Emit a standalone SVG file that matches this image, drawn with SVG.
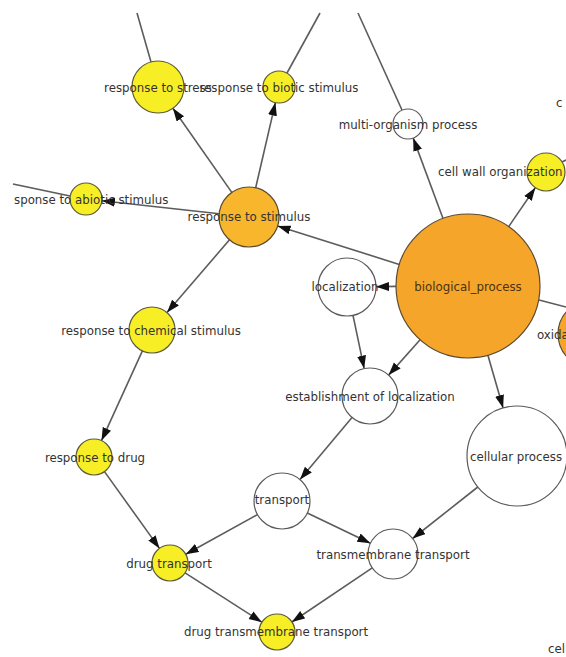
<svg xmlns="http://www.w3.org/2000/svg" width="566" height="657" viewBox="0 0 566 657">
<defs>
<marker id="arr" markerUnits="userSpaceOnUse" markerWidth="14" markerHeight="10" refX="13" refY="4.5" orient="auto">
<path d="M0,0 L13,4.5 L0,9 z" fill="#111"/>
</marker>
<style>
.e{stroke:#5c5c5c;stroke-width:1.6;fill:none}
.a{marker-end:url(#arr)}
.y{fill:#f8ee26;stroke:#5a5a3a;stroke-width:1.2}
.o1{fill:#f7b62c;stroke:#5a4a30;stroke-width:1.2}
.o2{fill:#f5a62a;stroke:#5a4a30;stroke-width:1.2}
.w{fill:#fff;stroke:#5a5a5a;stroke-width:1.2}
text{font-family:"DejaVu Sans","Liberation Sans",sans-serif;font-size:11.8px;fill:#333;dominant-baseline:central;text-anchor:middle}
.s{text-anchor:start}
.d{fill:#4a3210}
</style>
</defs>
<rect width="566" height="657" fill="#fff"/>
<g id="edges">
<line class="e" x1="137" y1="13" x2="151" y2="62"/>
<line class="e" x1="320" y1="13" x2="287" y2="73"/>
<line class="e" x1="358" y1="13" x2="402" y2="110"/>
<line class="e" x1="13" y1="184" x2="70" y2="196"/>
<line class="e" x1="562" y1="162" x2="566" y2="160"/>
<line class="e" x1="539" y1="300" x2="566" y2="307"/>
<line class="e a" x1="231.8" y1="192.4" x2="172.9" y2="108.3"/>
<line class="e a" x1="255.7" y1="187.8" x2="275.4" y2="102.6"/>
<line class="e a" x1="219.2" y1="213.7" x2="101.9" y2="200.8"/>
<line class="e a" x1="229.5" y1="239.8" x2="167" y2="312.5"/>
<line class="e a" x1="399.3" y1="264.4" x2="277.6" y2="226"/>
<line class="e a" x1="396" y1="286.4" x2="376" y2="286.8"/>
<line class="e a" x1="443" y1="218.5" x2="413.2" y2="138.1"/>
<line class="e a" x1="508.7" y1="226.6" x2="535.3" y2="187.7"/>
<line class="e a" x1="420.1" y1="339.8" x2="388.6" y2="375.1"/>
<line class="e a" x1="487.9" y1="355.2" x2="503.1" y2="408"/>
<line class="e a" x1="353" y1="315.4" x2="364.2" y2="368.6"/>
<line class="e a" x1="352" y1="417.5" x2="300" y2="479.5"/>
<line class="e a" x1="257.5" y1="514.6" x2="185.75" y2="554.3"/>
<line class="e a" x1="307.3" y1="513" x2="370.4" y2="543.2"/>
<line class="e a" x1="477.8" y1="487" x2="412.6" y2="538.5"/>
<line class="e a" x1="142.4" y1="350.9" x2="101.5" y2="440.6"/>
<line class="e a" x1="104.5" y1="471.6" x2="159.5" y2="548.4"/>
<line class="e a" x1="185.1" y1="572.8" x2="261.9" y2="622.2"/>
<line class="e a" x1="372.25" y1="567.95" x2="291.9" y2="622"/>
</g>
<g id="n-stress"><circle class="y" cx="158" cy="87" r="26"/><text x="158" y="88">response to stress</text></g>
<g id="n-biotic"><circle class="y" cx="279" cy="87" r="16"/><text x="279" y="88">response to biotic stimulus</text></g>
<g id="n-multi"><circle class="w" cx="408" cy="124" r="15"/><text x="408" y="125">multi-organism process</text></g>
<g id="n-cellwall"><circle class="y" cx="546" cy="172" r="19"/><text class="s" x="438" y="172">cell wall organization</text></g>
<g id="n-c"><text class="s" x="556" y="103">c</text></g>
<g id="n-abiotic"><circle class="y" cx="86" cy="199" r="16"/><text class="s" x="14" y="200">sponse to abiotic stimulus</text></g>
<g id="n-stimulus"><circle class="o1" cx="249" cy="217" r="30"/><text x="249" y="217">response to stimulus</text></g>
<g id="n-bio"><circle class="o2" cx="468" cy="286" r="72"/><text class="d" x="468" y="287">biological_process</text></g>
<g id="n-loc"><circle class="w" cx="347" cy="287" r="29"/><text x="345" y="287">localization</text></g>
<g id="n-oxida"><circle class="o2" cx="592" cy="334" r="34"/><text class="s" x="537" y="335">oxida</text></g>
<g id="n-chem"><circle class="y" cx="152" cy="330" r="23"/><text x="151" y="331">response to chemical stimulus</text></g>
<g id="n-estab"><circle class="w" cx="370" cy="396" r="28"/><text x="370" y="397">establishment of localization</text></g>
<g id="n-cellular"><circle class="w" cx="517" cy="456" r="50"/><text x="516" y="457">cellular process</text></g>
<g id="n-drug"><circle class="y" cx="94" cy="457" r="18"/><text x="95" y="458">response to drug</text></g>
<g id="n-transport"><circle class="w" cx="282" cy="501" r="28"/><text x="282" y="500">transport</text></g>
<g id="n-tm"><circle class="w" cx="393" cy="554" r="25"/><text x="393" y="555">transmembrane transport</text></g>
<g id="n-dt"><circle class="y" cx="170" cy="563" r="18"/><text x="169" y="564">drug transport</text></g>
<g id="n-dtm"><circle class="y" cx="277" cy="632" r="18"/><text x="276" y="632">drug transmembrane transport</text></g>
<g id="n-cel"><text class="s" x="548" y="649">cel</text></g>
</svg>
